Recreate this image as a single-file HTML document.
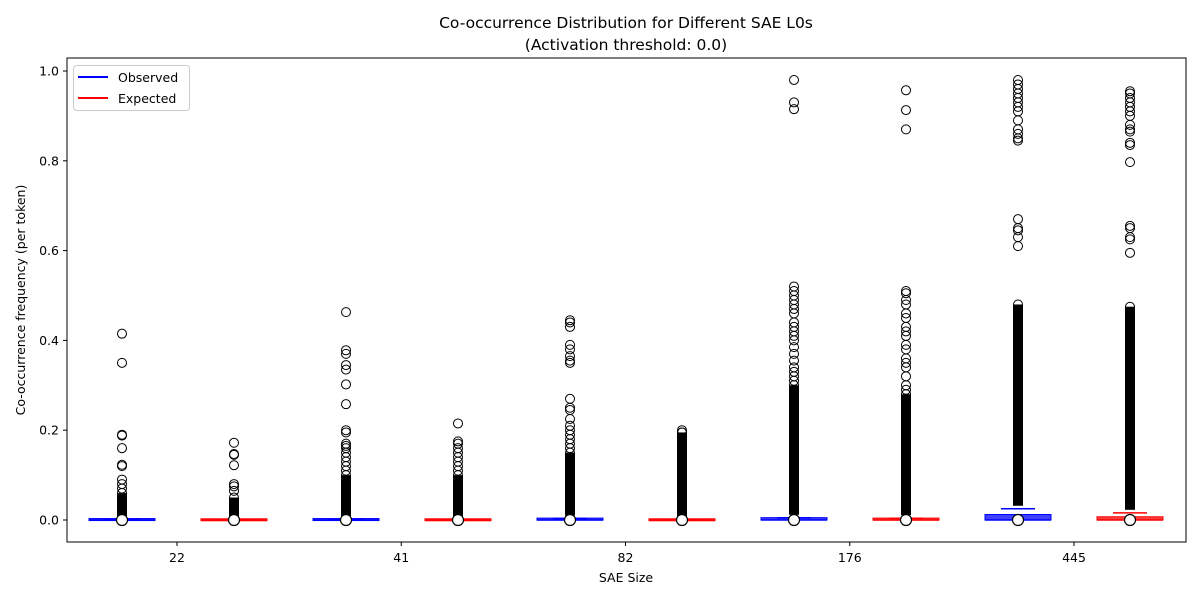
<!DOCTYPE html>
<html><head><style>body{margin:0;background:#fff}svg{font-family:"DejaVu Sans","Liberation Sans",sans-serif}</style></head>
<body>
<svg id="s" width="1200" height="600" xmlns="http://www.w3.org/2000/svg">
<rect width="1200" height="600" fill="#fff"/>
<text x="626" y="28" font-size="15.5" text-anchor="middle">Co-occurrence Distribution for Different SAE L0s</text>
<text x="626" y="50" font-size="15.5" text-anchor="middle">(Activation threshold: 0.0)</text>
<g id="g"></g>
<rect x="67" y="58" width="1119" height="484" fill="none" stroke="#000" stroke-width="1"/>
<text x="626" y="582" font-size="12.5" text-anchor="middle">SAE Size</text>
<text transform="translate(25,300) rotate(-90)" font-size="12.5" text-anchor="middle">Co-occurrence frequency (per token)</text>
<rect x="73.5" y="65.5" width="116" height="45" rx="3" fill="#fff" stroke="#ccc"/>
<line x1="78" y1="77" x2="108" y2="77" stroke="#00f" stroke-width="2"/>
<text x="118" y="82" font-size="12.5">Observed</text>
<line x1="78" y1="98" x2="108" y2="98" stroke="#f00" stroke-width="2"/>
<text x="118" y="103" font-size="12.5">Expected</text>
</svg>
<script>
const g=document.getElementById('g');let h='';
const Y=v=>520-449*v;
for(let i=0;i<=5;i++){const v=i*0.2,y=Y(v);h+=`<line x1="63" y1="${y}" x2="67" y2="${y}" stroke="#000"/><text x="59" y="${y+4.5}" font-size="12.5" text-anchor="end">${v.toFixed(1)}</text>`;}
const L=[22,41,82,176,445];
L.forEach((l,i)=>{const x=177+i*224.25;h+=`<line x1="${x}" y1="542" x2="${x}" y2="546" stroke="#000"/><text x="${x}" y="562" font-size="12.5" text-anchor="middle">${l}</text>`;});
const D=[
[122,'#00f',0.06,[0.415,0.35,0.19,0.188,0.16,0.123,0.12,0.09,0.08,0.07],0.001,0.002],
[234,'#f00',0.05,[0.172,0.147,0.145,0.122,0.08,0.075,0.065],0.0005,0.001],
[346,'#00f',0.1,[0.463,0.378,0.37,0.345,0.335,0.302,0.258,0.2,0.195,0.17,0.165,0.16,0.15,0.14,0.13,0.12,0.11],0.001,0.002],
[458,'#f00',0.1,[0.215,0.175,0.17,0.16,0.15,0.14,0.13,0.12,0.11],0.0005,0.001],
[570,'#00f',0.15,[0.445,0.44,0.43,0.39,0.38,0.365,0.355,0.35,0.27,0.25,0.245,0.225,0.21,0.2,0.19,0.18,0.17,0.16],0.002,0.003],
[682,'#f00',0.195,[0.2,0.195],0.0005,0.001],
[794,'#00f',0.3,[0.98,0.93,0.915,0.52,0.51,0.5,0.49,0.48,0.47,0.46,0.44,0.43,0.42,0.41,0.4,0.385,0.37,0.355,0.34,0.33,0.32,0.31],0.003,0.005],
[906,'#f00',0.28,[0.957,0.913,0.87,0.51,0.505,0.49,0.48,0.46,0.45,0.43,0.42,0.41,0.39,0.38,0.36,0.35,0.34,0.32,0.3,0.29],0.002,0.004],
[1018,'#00f',0.48,[0.98,0.97,0.96,0.95,0.94,0.93,0.92,0.91,0.89,0.87,0.86,0.85,0.845,0.67,0.65,0.645,0.63,0.61],0.01,0.025],
[1130,'#f00',0.475,[0.955,0.95,0.94,0.93,0.92,0.91,0.9,0.88,0.87,0.865,0.84,0.835,0.797,0.655,0.65,0.63,0.625,0.595],0.005,0.016]];
D.forEach(([x,c,top,sp,q3,wh])=>{
 const bt=Y(q3);h+=`<rect x="${x-33}" y="${bt-1}" width="66" height="${Math.max(2,520-bt+1)}" fill="${c}" fill-opacity="0.75" stroke="${c}"/>`;
 h+=`<line x1="${x-33}" y1="520" x2="${x+33}" y2="520" stroke="${c}" stroke-width="1.5"/>`;
 h+=`<line x1="${x-17}" y1="${Y(wh)}" x2="${x+17}" y2="${Y(wh)}" stroke="${c}" stroke-width="1.5"/>`;
 const yt=Y(top),yb=Y(wh)-3;
 h+=`<rect x="${x-5}" y="${yt}" width="10" height="${yb-yt}" fill="#000"/><circle cx="${x}" cy="${yt}" r="4.5" fill="none" stroke="#000"/>`;
 sp.forEach(v=>h+=`<circle cx="${x}" cy="${Y(v)}" r="4.5" fill="none" stroke="#000"/>`);
 h+=`<circle cx="${x}" cy="520" r="5.5" fill="#fff" stroke="#000" stroke-width="1.2"/>`;
});
g.innerHTML=h;
</script>
</body></html>
